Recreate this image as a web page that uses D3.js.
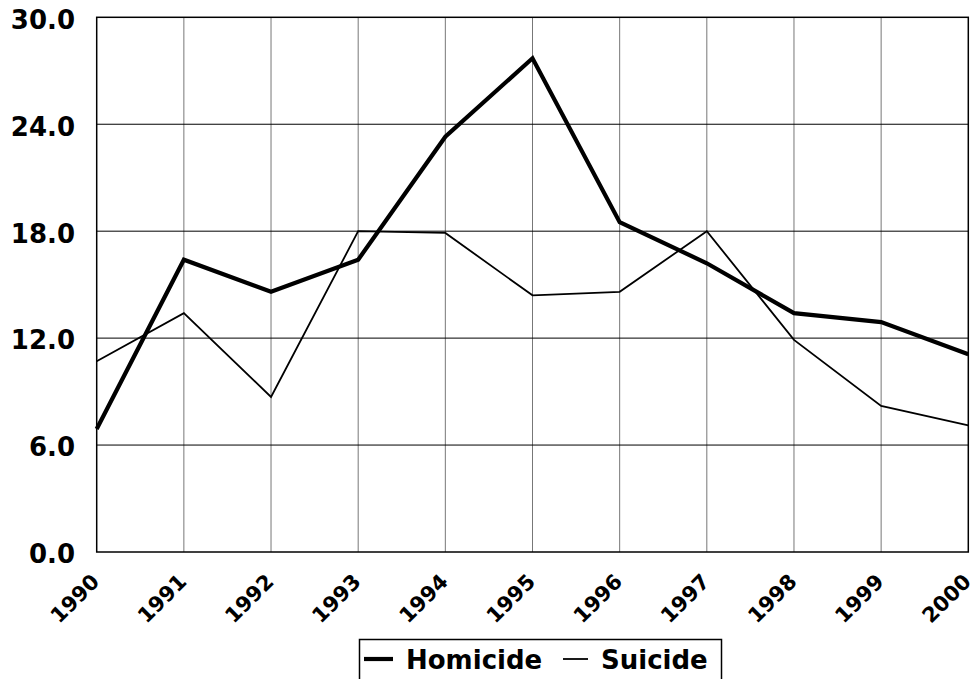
<!DOCTYPE html>
<html lang="en">
    <head>
        <meta charset="utf-8">
        <title>Homicide and Suicide</title>
        <script type="text/javascript" src="https://cdn.jsdelivr.net/npm/d3@7"></script>
        <style type="text/css">
            body { margin: 0; background: #fff; }
            text { font-family: "DejaVu Sans", Verdana, sans-serif; font-weight: bold; font-size: 26px; fill: #000; }
            text.year { font-size: 21px; }
        </style>
    </head>
    <body>
        <script type="text/javascript">

            var years = [1990, 1991, 1992, 1993, 1994, 1995, 1996, 1997, 1998, 1999, 2000];
            var homicide = [6.9, 16.4, 14.6, 16.4, 23.3, 27.7, 18.5, 16.2, 13.4, 12.9, 11.1];
            var suicide = [10.7, 13.4, 8.7, 18.0, 17.9, 14.4, 14.6, 18.0, 11.9, 8.2, 7.1];
            var yTicks = [0, 6, 12, 18, 24, 30];

            var w = 977;
            var h = 679;
            // plot box
            var pLeft = 96.7, pRight = 968.3, pTop = 17.3, pBottom = 552;

            var svg = d3.select("body")
                        .append("svg")
                        .attr("width", w)
                        .attr("height", h);

            var x = d3.scaleLinear().domain([1990, 2000]).range([pLeft, pRight]);
            var y = d3.scaleLinear().domain([0, 30]).range([pBottom, pTop]);

            // vertical grid (grey)
            svg.append("g")
                .selectAll("line")
                .data(years.slice(1, -1))
                .enter().append("line")
                .attr("x1", function(d) { return x(d); })
                .attr("x2", function(d) { return x(d); })
                .attr("y1", pTop)
                .attr("y2", pBottom)
                .attr("stroke", "#777")
                .attr("stroke-width", 1);

            // horizontal grid (black)
            svg.append("g")
                .selectAll("line")
                .data(yTicks.slice(1, -1))
                .enter().append("line")
                .attr("x1", pLeft)
                .attr("x2", pRight)
                .attr("y1", function(d) { return y(d); })
                .attr("y2", function(d) { return y(d); })
                .attr("stroke", "#000")
                .attr("stroke-width", 1);

            // frame
            svg.append("rect")
                .attr("x", pLeft)
                .attr("y", pTop)
                .attr("width", pRight - pLeft)
                .attr("height", pBottom - pTop)
                .attr("fill", "none")
                .attr("stroke", "#000")
                .attr("stroke-width", 1.5);

            // y labels
            svg.append("g")
                .selectAll("text")
                .data(yTicks)
                .enter().append("text")
                .attr("x", 75)
                .attr("y", function(d) { return y(d) + 2; })
                .attr("dy", "0.36em")
                .attr("text-anchor", "end")
                .text(function(d) { return d3.format(".1f")(d); });

            // x labels, rotated
            svg.append("g")
                .selectAll("text")
                .data(years)
                .enter().append("text")
                .attr("class", "year")
                .attr("text-anchor", "end")
                .attr("transform", function(d) { return "translate(" + (x(d) + 4) + "," + (pBottom + 31) + ") rotate(-45)"; })
                .text(function(d) { return d; });

            var line = d3.line()
                .x(function(d, i) { return x(years[i]); })
                .y(function(d) { return y(d); });

            svg.append("path")
                .datum(suicide)
                .attr("d", line)
                .attr("fill", "none")
                .attr("stroke", "#000")
                .attr("stroke-width", 1.8);

            svg.append("path")
                .datum(homicide)
                .attr("d", line)
                .attr("fill", "none")
                .attr("stroke", "#000")
                .attr("stroke-width", 4.2);

            // legend
            var legend = svg.append("g");
            legend.append("rect")
                .attr("x", 359.5)
                .attr("y", 639.5)
                .attr("width", 362)
                .attr("height", 60)
                .attr("fill", "#fff")
                .attr("stroke", "#000")
                .attr("stroke-width", 1.5);
            legend.append("line")
                .attr("x1", 364).attr("x2", 393)
                .attr("y1", 659).attr("y2", 659)
                .attr("stroke", "#000").attr("stroke-width", 4.2);
            legend.append("text")
                .attr("x", 406)
                .attr("y", 669)
                .text("Homicide");
            legend.append("line")
                .attr("x1", 563).attr("x2", 588)
                .attr("y1", 659).attr("y2", 659)
                .attr("stroke", "#000").attr("stroke-width", 1.8);
            legend.append("text")
                .attr("x", 601)
                .attr("y", 669)
                .text("Suicide");

        </script>
    </body>
</html>
